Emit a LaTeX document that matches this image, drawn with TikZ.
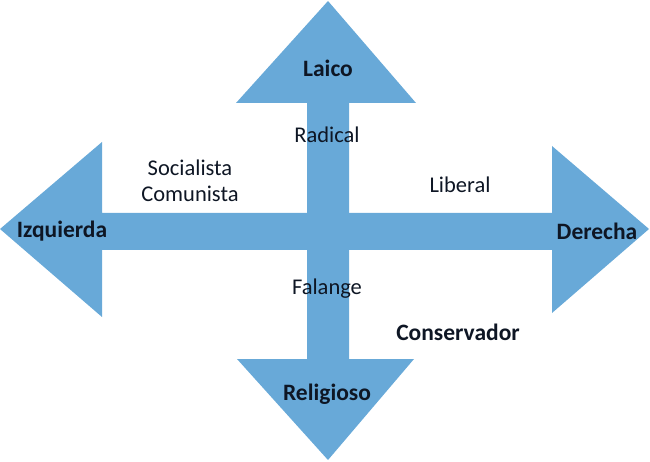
\documentclass[tikz,border=0pt]{standalone}
\usepackage{fontspec}
\setmainfont{Carlito}
\definecolor{arrowblue}{HTML}{68A9D8}
\definecolor{labeltext}{HTML}{0E1624}
\tikzset{
  arrowshape/.style={fill=arrowblue, draw=none},
  plainlabel/.style={text=labeltext, font=\fontsize{22.5}{26}\selectfont, inner sep=0pt, align=center},
  boldlabel/.style={text=labeltext, font=\fontsize{23.5}{27}\selectfont\bfseries, inner sep=0pt},
}
\begin{document}
\begin{tikzpicture}[x=1pt,y=-1pt]
\useasboundingbox (0,0) rectangle (650,462);
% horizontal double arrow
\fill[arrowshape] (0,229) -- (102,142) -- (102,213) -- (552,213) -- (552,146) -- (649,229)
  -- (552,313) -- (552,250) -- (102,250) -- (102,317) -- cycle;
% vertical double arrow
\fill[arrowshape] (328,1) -- (416,103) -- (349,103) -- (349,359) -- (414,359) -- (328,460)
  -- (237,359) -- (307,359) -- (307,103) -- (236,103) -- cycle;
% labels
\node[boldlabel] (laico) at (328,68) {Laico};
\node[boldlabel] (religioso) at (327,394) {Religioso};
\node[boldlabel] (izq) at (62,231) {Izquierda};
\node[boldlabel] (der) at (597,231) {Derecha};
\node[boldlabel] (cons) at (458,332) {Conservador};
\node[plainlabel] (radical) at (327,135) {Radical};
\node[plainlabel] (soc) at (190,181) {Socialista\\Comunista};
\node[plainlabel] (liberal) at (460,185) {Liberal};
\node[plainlabel] (falange) at (327,289) {Falange};
\end{tikzpicture}
\end{document}
